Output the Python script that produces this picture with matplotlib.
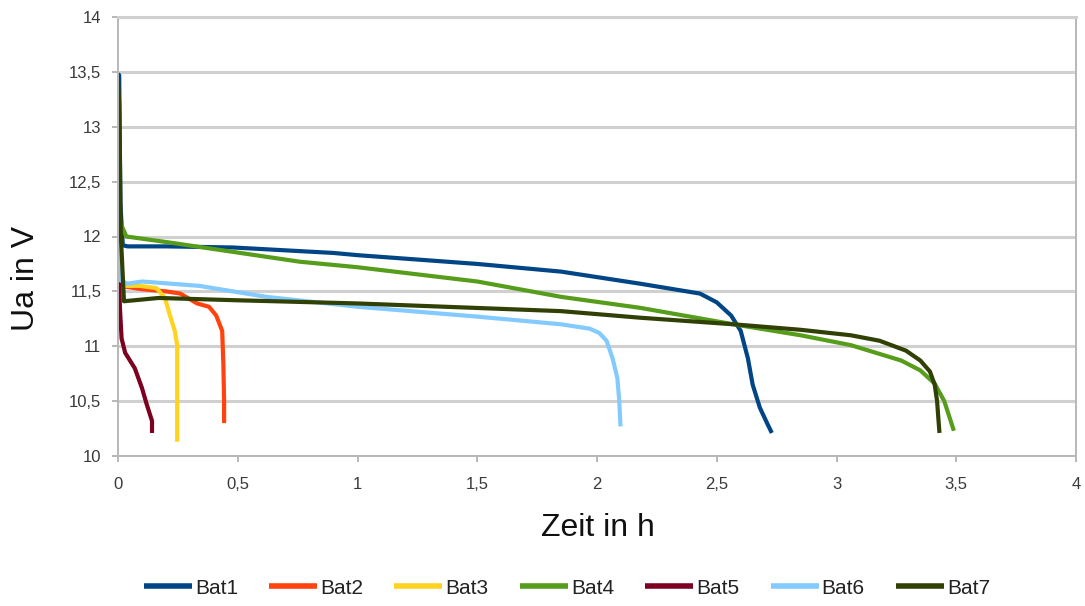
import matplotlib
matplotlib.use("Agg")
import matplotlib.pyplot as plt
from matplotlib.ticker import FuncFormatter, MultipleLocator

plt.rcParams['font.family'] = ['Liberation Sans', 'DejaVu Sans']

# Discharge curves: time in h, terminal voltage in V
bat1_t = [0.0, 0.005, 0.01, 0.02, 0.04, 0.2, 0.48, 0.9, 1.0, 1.5, 1.85, 1.97, 2.18, 2.43, 2.5, 2.56, 2.60, 2.63, 2.65, 2.68, 2.71, 2.73]
bat1_u = [13.48, 13.47, 12.3, 11.92, 11.91, 11.91, 11.90, 11.85, 11.83, 11.75, 11.68, 11.64, 11.57, 11.48, 11.40, 11.28, 11.14, 10.89, 10.65, 10.44, 10.30, 10.21]

bat2_t = [0.0, 0.01, 0.1, 0.2, 0.26, 0.33, 0.38, 0.41, 0.435, 0.44, 0.443, 0.443]
bat2_u = [12.0, 11.55, 11.52, 11.50, 11.48, 11.39, 11.36, 11.28, 11.14, 10.83, 10.50, 10.30]

bat3_t = [0.0, 0.01, 0.09, 0.16, 0.196, 0.217, 0.237, 0.247, 0.247, 0.247]
bat3_u = [12.0, 11.55, 11.55, 11.53, 11.44, 11.28, 11.14, 11.01, 10.60, 10.13]

bat4_t = [0.0, 0.015, 0.035, 0.2, 0.48, 0.76, 1.0, 1.5, 1.85, 2.18, 2.57, 2.85, 3.06, 3.27, 3.35, 3.41, 3.45, 3.49]
bat4_u = [12.15, 12.1, 12.0, 11.95, 11.86, 11.77, 11.72, 11.59, 11.45, 11.35, 11.20, 11.10, 11.01, 10.87, 10.78, 10.66, 10.50, 10.23]

bat5_t = [0.0, 0.003, 0.008, 0.015, 0.03, 0.07, 0.1, 0.12, 0.142, 0.142]
bat5_u = [12.16, 11.80, 11.35, 11.07, 10.94, 10.80, 10.62, 10.47, 10.32, 10.21]

bat6_t = [0.0, 0.01, 0.04, 0.1, 0.34, 0.62, 1.0, 1.5, 1.85, 1.97, 2.01, 2.04, 2.065, 2.085, 2.093, 2.098]
bat6_u = [12.3, 11.60, 11.57, 11.59, 11.55, 11.45, 11.36, 11.27, 11.20, 11.16, 11.12, 11.05, 10.89, 10.71, 10.50, 10.27]

bat7_t = [0.0, 0.005, 0.012, 0.025, 0.17, 0.48, 1.0, 1.85, 2.18, 2.57, 2.85, 3.06, 3.18, 3.29, 3.35, 3.39, 3.41, 3.42, 3.425, 3.43]
bat7_u = [13.45, 13.2, 12.0, 11.41, 11.44, 11.42, 11.39, 11.32, 11.26, 11.20, 11.15, 11.10, 11.05, 10.96, 10.87, 10.77, 10.65, 10.50, 10.35, 10.21]

series = [
    ("Bat1", bat1_t, bat1_u, "#004586"),
    ("Bat2", bat2_t, bat2_u, "#ff420e"),
    ("Bat3", bat3_t, bat3_u, "#ffd320"),
    ("Bat4", bat4_t, bat4_u, "#579d1c"),
    ("Bat5", bat5_t, bat5_u, "#7e0021"),
    ("Bat6", bat6_t, bat6_u, "#83caff"),
    ("Bat7", bat7_t, bat7_u, "#314004"),
]

W, H = 1085, 606
fig = plt.figure(figsize=(W / 100, H / 100), dpi=100)
ax = fig.add_axes([118 / W, 1 - 456 / H, (1076 - 118) / W, (456 - 17) / H])

for name, t, u, c in series:
    ax.plot(t, u, color=c, lw=3.0, label=name, solid_joinstyle='round', solid_capstyle='butt')

ax.set_xlim(0, 4)
ax.set_ylim(10, 14)
ax.xaxis.set_major_locator(MultipleLocator(0.5))
ax.yaxis.set_major_locator(MultipleLocator(0.5))


def comma(v, pos):
    return ("%g" % v).replace(".", ",")


ax.xaxis.set_major_formatter(FuncFormatter(comma))
ax.yaxis.set_major_formatter(FuncFormatter(comma))

ax.grid(axis='y', color='#d0d0d0', lw=2.2)
ax.set_axisbelow(True)
for s in ax.spines.values():
    s.set_color('#b8b8b8')
    s.set_linewidth(1.4)
ax.spines['top'].set_color('#d0d0d0')
ax.spines['top'].set_linewidth(2.2)
ax.tick_params(axis='both', colors='#b8b8b8', length=4, width=1.4,
               labelcolor='#3a3a3a', labelsize=12)
ax.tick_params(axis='y', pad=8)
ax.tick_params(axis='x', pad=20)
for lab in ax.get_xticklabels():
    lab.set_verticalalignment('baseline')

fig.text(598 / W, 1 - 528 / H, "Zeit in h", fontsize=23, color='#111111',
         ha='center', va='center')
fig.text(26 / W, 1 - 278 / H, "Ua in V", fontsize=23, color='#111111',
         ha='center', va='center', rotation=90)

leg = fig.legend(loc='center', bbox_to_anchor=(567 / W, 1 - 588 / H), ncol=7, frameon=False,
                 fontsize=15, handlelength=2.3, handletextpad=0.15, columnspacing=1.5)
for line in leg.get_lines():
    line.set_linewidth(4.0)
for txt in leg.get_texts():
    txt.set_color('#222222')

fig.savefig("out.png", dpi=100)
